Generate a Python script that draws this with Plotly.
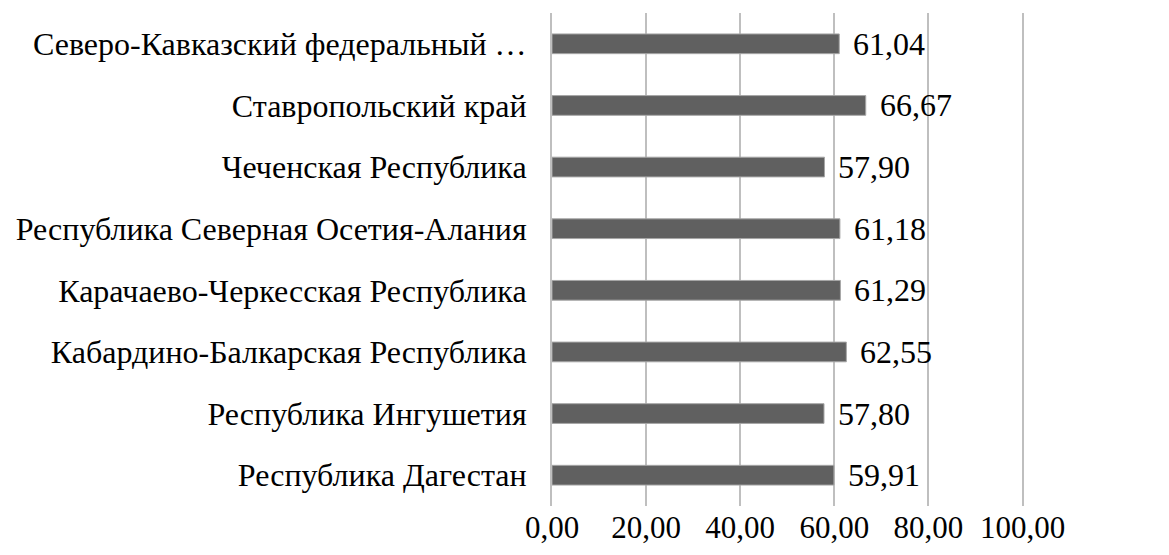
import plotly.graph_objects as go

categories = [
    "Республика Дагестан",
    "Республика Ингушетия",
    "Кабардино-Балкарская Республика",
    "Карачаево-Черкесская Республика",
    "Республика Северная Осетия-Алания",
    "Чеченская Республика",
    "Ставропольский край",
    "Северо-Кавказский федеральный …",
]
values = [59.91, 57.80, 62.55, 61.29, 61.18, 57.90, 66.67, 61.04]
tick_vals = [0, 20, 40, 60, 80, 100]

FONT = "Liberation Serif, Times New Roman, serif"
FS = 32

fig = go.Figure()
fig.add_trace(go.Bar(
    x=values, y=categories, orientation="h",
    marker=dict(color="#606060", line=dict(color="#a6a6a6", width=1)),
    width=0.32,
    hoverinfo="skip",
))
for c, v in zip(categories, values):
    fig.add_annotation(
        x=v, y=c, text=f"{v:.2f}".replace(".", ","),
        xanchor="left", yanchor="middle", xshift=12, showarrow=False,
        font=dict(family=FONT, size=FS, color="#000000"),
    )

fig.update_layout(
    width=1169, height=555,
    margin=dict(l=552, r=145, t=13, b=49, autoexpand=False),
    paper_bgcolor="white", plot_bgcolor="white",
    separators=", ",
    showlegend=False,
    font=dict(family=FONT, size=FS, color="#000000"),
    xaxis=dict(
        range=[0, 100.3], tickvals=tick_vals, tickformat=".2f",
        showgrid=True, gridcolor="#bfbfbf", gridwidth=2,
        zeroline=False, showline=False, automargin=False,
        ticks="", ticklen=0,
        tickfont=dict(family=FONT, size=31, color="#000000"),
    ),
    yaxis=dict(
        categoryorder="array", categoryarray=categories,
        showgrid=False, zeroline=False, automargin=False,
        showline=True, linecolor="#bfbfbf", linewidth=2,
        ticks="outside", ticklen=17, tickcolor="rgba(0,0,0,0)",
        tickfont=dict(family=FONT, size=FS, color="#000000"),
    ),
)

fig.write_html("out.html", config={"displayModeBar": False})
with open("out.html", encoding="utf-8") as f:
    html = f.read()
html = html.replace("<head>", "<head><style>html,body{margin:0;padding:0;}</style>", 1)
with open("out.html", "w", encoding="utf-8") as f:
    f.write(html)
